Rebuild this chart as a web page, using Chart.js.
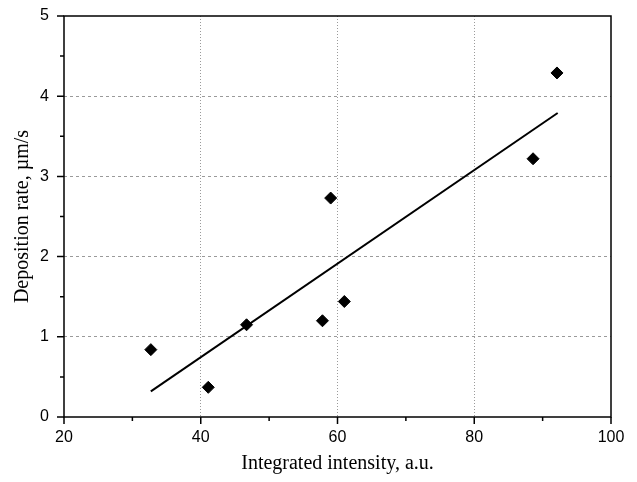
<!DOCTYPE html>
<html>
<head>
<meta charset="utf-8">
<script src="https://cdn.jsdelivr.net/npm/chart.js@4.4.0/dist/chart.umd.min.js"></script>
<style>
  body { margin: 0; background: #fff; }
  #wrap { width: 637px; height: 482px; }
</style>
</head>
<body>
<div id="wrap"><canvas id="chart" width="637" height="482"></canvas></div>
<script>
// measured points
const intensity = [32.7, 41.1, 46.7, 57.8, 59.0, 61.0, 88.6, 92.1];
const rate = [0.84, 0.37, 1.15, 1.20, 2.73, 1.44, 3.22, 4.29];
// linear fit line, ends
const fitX = [32.7, 92.2];
const fitY = [0.32, 3.79];

const xTicks = [20, 40, 60, 80, 100];
const yTicks = [0, 1, 2, 3, 4, 5];

const tickFont = { family: "'Liberation Sans', Arial, sans-serif", size: 16 };
const titleFont = { family: "'Liberation Serif', 'Times New Roman', serif", size: 20 };

// frame + outward major/minor ticks
const framePlugin = {
    id: 'frame',
    afterDraw(chart) {
        const { ctx, chartArea: a, scales } = chart;
        ctx.save();
        ctx.strokeStyle = '#000';
        ctx.lineWidth = 1.5;
        ctx.strokeRect(a.left, a.top, a.right - a.left, a.bottom - a.top);
        ctx.beginPath();
        for (let v = 20; v <= 100; v += 10) {
            const px = scales.x.getPixelForValue(v);
            const len = v % 20 === 0 ? 7 : 4;
            ctx.moveTo(px, a.bottom);
            ctx.lineTo(px, a.bottom + len);
        }
        for (let v = 0; v <= 5; v += 0.5) {
            const py = scales.y.getPixelForValue(v);
            const len = v % 1 === 0 ? 7 : 4;
            ctx.moveTo(a.left, py);
            ctx.lineTo(a.left - len, py);
        }
        ctx.stroke();
        ctx.restore();
    }
};

const innerGrid = (lo, hi) => (c) => (c.tick && c.tick.value > lo && c.tick.value < hi) ? '#9a9a9a' : 'rgba(0,0,0,0)';

new Chart(document.getElementById('chart').getContext('2d'), {
    type: 'scatter',
    data: {
        datasets: [{
            label: 'data',
            data: intensity.map((x, i) => ({ x: x, y: rate[i] })),
            pointStyle: 'rectRot',
            pointRadius: 6,
            backgroundColor: '#000',
            borderColor: '#000',
            borderWidth: 1,
        }, {
            label: 'fit',
            data: fitX.map((x, i) => ({ x: x, y: fitY[i] })),
            showLine: true,
            pointRadius: 0,
            borderColor: '#000',
            borderWidth: 2,
        }]
    },
    options: {
        responsive: false,
        animation: false,
        layout: { padding: { top: 16, right: 26, left: 0, bottom: 0 } },
        plugins: { legend: { display: false }, tooltip: { enabled: false } },
        scales: {
            x: {
                type: 'linear',
                min: 20, max: 100,
                afterBuildTicks: (s) => { s.ticks = xTicks.map(v => ({ value: v })); },
                afterFit: (s) => { s.height = 65; s.paddingLeft = 0; s.paddingRight = 0; },
                ticks: { font: tickFont, color: '#000', padding: 11 },
                grid: { color: innerGrid(20, 100), drawTicks: false },
                border: { display: false, dash: [1, 2] },
                title: { display: true, text: 'Integrated intensity, a.u.', font: titleFont, color: '#000', padding: { top: 4, bottom: 6 } }
            },
            y: {
                min: 0, max: 5,
                afterBuildTicks: (s) => { s.ticks = yTicks.map(v => ({ value: v })); },
                afterFit: (s) => { s.width = 64; s.paddingTop = 0; s.paddingBottom = 0; },
                ticks: { font: tickFont, color: '#000', padding: 15 },
                grid: { color: innerGrid(0, 5), drawTicks: false },
                border: { display: false, dash: [3, 3] },
                title: { display: true, text: 'Deposition rate, µm/s', font: titleFont, color: '#000', padding: { top: 11, bottom: 4 } }
            }
        }
    },
    plugins: [framePlugin]
});
</script>
</body>
</html>
